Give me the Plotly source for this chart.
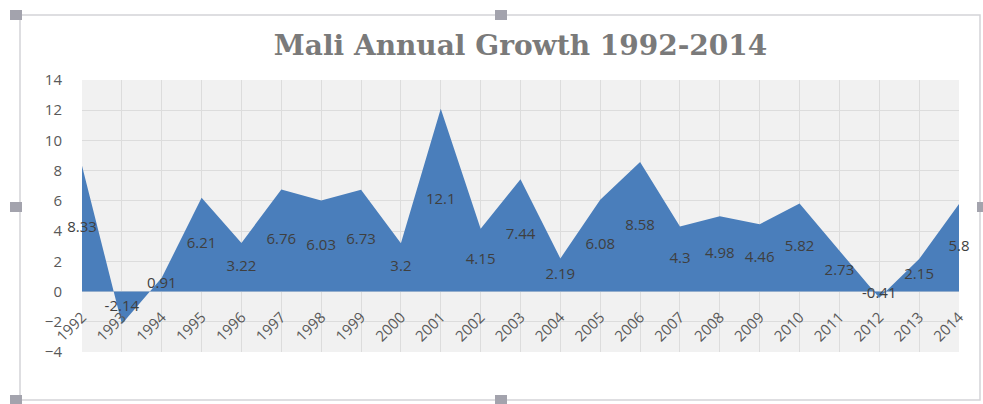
import plotly.graph_objects as go

years = [str(y) for y in range(1992, 2015)]
growth = [8.33, -2.14, 0.91, 6.21, 3.22, 6.76, 6.03, 6.73, 3.2, 12.1, 4.15, 7.44,
          2.19, 6.08, 8.58, 4.3, 4.98, 4.46, 5.82, 2.73, -0.41, 2.15, 5.8]
label_text = ["8.33", "-2.14", "0.91", "6.21", "3.22", "6.76", "6.03", "6.73", "3.2", "12.1",
              "4.15", "7.44", "2.19", "6.08", "8.58", "4.3", "4.98", "4.46", "5.82", "2.73",
              "-0.41", "2.15", "5.8"]
y_ticks = [-4, -2, 0, 2, 4, 6, 8, 10, 12, 14]

W, H = 983, 404
L, R, T, B = 82, 24, 80, 52
PW, PH = W - L - R, H - T - B

def px(x):
    return (x - L) / PW

def py(y):
    return (H - B - y) / PH

fig = go.Figure()
fig.add_trace(go.Scatter(
    x=years, y=growth, mode="lines", fill="tozeroy",
    line=dict(color="#4a7ebb", width=0), fillcolor="#4a7ebb",
    hoverinfo="x+y", showlegend=False,
))
fig.add_trace(go.Scatter(
    x=years, y=[v / 2 for v in growth], mode="text", text=label_text,
    textposition="middle center", cliponaxis=False,
    textfont=dict(family="Open Sans, Liberation Sans, sans-serif", size=15, color="#3f3f3f"),
    hoverinfo="skip", showlegend=False,
))

shapes = []
frame_col = "#d4d4d8"
shapes.append(dict(type="rect", xref="paper", yref="paper",
                   x0=px(20), x1=px(980), y0=py(400), y1=py(15),
                   line=dict(color=frame_col, width=1.5), layer="below"))
for cx, cy in [(16, 15), (501, 15), (16, 207), (16, 400), (501, 400), (983, 207)]:
    shapes.append(dict(type="rect", xref="paper", yref="paper",
                       x0=px(cx - 6), x1=px(cx + 6), y0=py(cy + 5), y1=py(cy - 5),
                       fillcolor="#a3a3ad", line=dict(width=0), layer="above"))

fig.update_layout(
    width=W, height=H,
    margin=dict(l=L, r=R, t=T, b=B),
    paper_bgcolor="white", plot_bgcolor="#f1f1f1",
    title=dict(text="<b>Mali Annual Growth 1992-2014</b>", xref="paper", x=0.5,
               xanchor="center", yref="container", y=1 - 45 / H, yanchor="middle",
               font=dict(family="DejaVu Serif, serif", size=28, color="#7a7a7a")),
    xaxis=dict(type="category", range=[0, 22], showgrid=True, gridcolor="#dcdcdc",
               gridwidth=1, tickangle=-45, anchor="free", position=(4 / 18),
               tickfont=dict(family="Open Sans, Liberation Sans, sans-serif", size=15, color="#595959"),
               showline=False, zeroline=False, ticks="outside", ticklen=10,
               tickcolor="rgba(0,0,0,0)", fixedrange=True),
    yaxis=dict(range=[-4, 14], tickvals=y_ticks, showgrid=True, gridcolor="#dcdcdc",
               gridwidth=1, zeroline=False, showline=False,
               ticks="outside", ticklen=16, tickcolor="rgba(0,0,0,0)",
               tickfont=dict(family="Open Sans, Liberation Sans, sans-serif", size=15, color="#595959")),
    shapes=shapes,
)

fig.write_html("out.html")
